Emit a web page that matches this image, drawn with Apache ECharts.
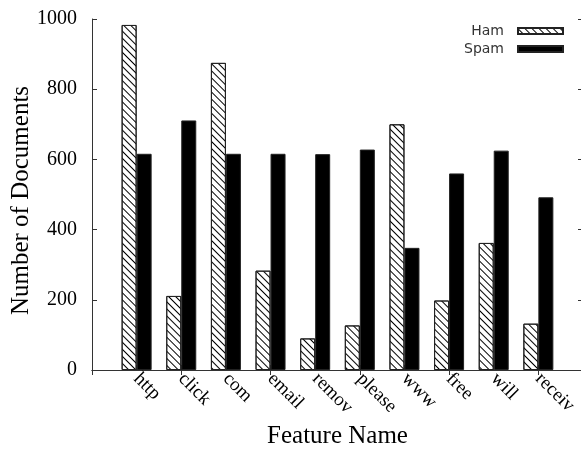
<!DOCTYPE html>
<html><head><meta charset="utf-8">
<script src="https://cdn.jsdelivr.net/npm/echarts@6/dist/echarts.min.js"></script>
<style>html,body{margin:0;padding:0;background:#fff}#c{width:581px;height:453px}</style>
</head><body><div id="c"></div>
<script>
var categories = ['http','click','com','email','remov','please','www','free','will','receiv'];
var hamValues  = [983, 211, 875, 283, 90, 127, 700, 198, 362, 132];
var spamValues = [616, 711, 616, 616, 615, 628, 348, 560, 625, 492];
var yTicks = [0, 200, 400, 600, 800, 1000];

var axisData = [''].concat(categories).concat(['']);
var hamData = [null].concat(hamValues).concat([null]);
var spamData = [null].concat(spamValues).concat([null]);
var serif = 'Liberation Serif';
var lineStyle = {color:'#333', width:1};

var chart = echarts.init(document.getElementById('c'), null, {renderer:'canvas'});
chart.setOption({
  animation:false,
  backgroundColor:'#fff',
  grid:{left:92, top:19, right:-2, bottom:83, containLabel:false, outerBoundsMode:'none'},
  legend:{
    orient:'vertical', right:12, top:19, align:'right', itemWidth:45, itemHeight:6, itemGap:4,
    textStyle:{fontFamily:'DejaVu Sans', fontSize:14, color:'#333', padding:[0,9,0,0]},
    data:[{name:'Ham', icon:'rect'},{name:'Spam', icon:'rect'}]
  },
  xAxis:[{
    type:'category', data:axisData, boundaryGap:false, position:'bottom',
    axisLine:{lineStyle:lineStyle}, axisTick:{inside:true, length:5, lineStyle:lineStyle},
    axisLabel:{rotate:-45, margin:6, fontFamily:serif, fontSize:19, color:'#000', interval:0},
    name:'Feature Name', nameLocation:'middle', nameGap:54,
    nameTextStyle:{fontFamily:serif, fontSize:25, color:'#000'}
  },{
    type:'category', data:axisData, boundaryGap:false, position:'top',
    axisLine:{lineStyle:lineStyle}, axisTick:{inside:true, length:5, lineStyle:lineStyle},
    axisLabel:{show:false}
  }],
  yAxis:[{
    type:'value', min:0, max:1000, interval:200, position:'left',
    axisLine:{show:true, lineStyle:lineStyle}, axisTick:{show:true, inside:true, length:5, lineStyle:lineStyle},
    splitLine:{show:false},
    axisLabel:{margin:15, fontFamily:serif, fontSize:20, color:'#000',
      formatter:function(v){return yTicks.indexOf(v)>=0 ? String(v) : '';}},
    name:'Number of Documents', nameLocation:'middle', nameGap:58, nameMoveOverlap:false,
    nameTextStyle:{fontFamily:serif, fontSize:25, color:'#000', padding:[0,12,0,0]}
  },{
    type:'value', min:0, max:1000, interval:200, position:'right',
    axisLine:{show:true, lineStyle:lineStyle}, axisTick:{show:true, inside:true, length:5, lineStyle:lineStyle},
    splitLine:{show:false}, axisLabel:{show:false}
  }],
  series:[{
    name:'Ham', type:'bar', data:hamData, barWidth:15, barGap:'0%',
    itemStyle:{color:'#fff', borderColor:'#222', borderWidth:1,
      decal:{symbol:'rect', symbolSize:1, dashArrayX:[1,0], dashArrayY:[1,4], rotation:Math.PI/4, color:'#000'}}
  },{
    name:'Spam', type:'bar', data:spamData, barWidth:15, barGap:'0%',
    itemStyle:{color:'#000', borderColor:'#222', borderWidth:1}
  }]
});
</script>
</body></html>
